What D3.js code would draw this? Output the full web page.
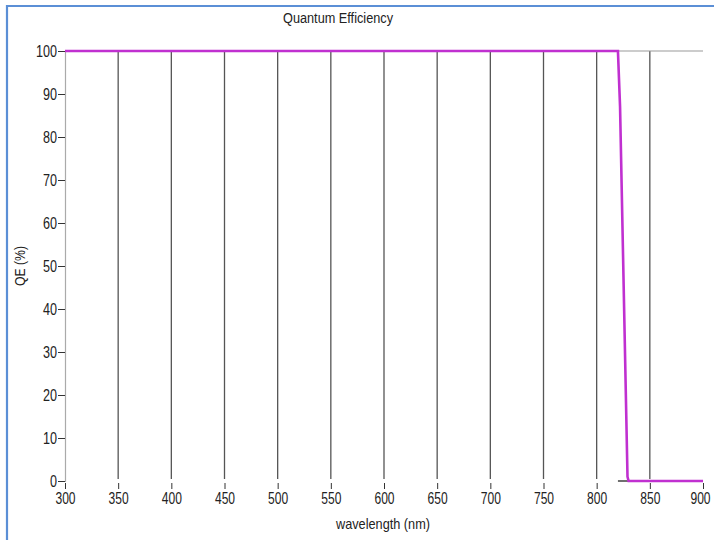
<!DOCTYPE html>
<html><head><meta charset="utf-8">
<script src="https://cdn.jsdelivr.net/npm/d3@7"></script>
<style>
html,body{margin:0;padding:0;background:#fff;}
svg text{font-family:"Liberation Sans","Arial",sans-serif;fill:#222;}
</style></head><body>
<svg id="c" width="714" height="540"></svg>
<script>
const title = "Quantum Efficiency";
const xLabel = "wavelength (nm)";
const yLabel = "QE (%)";
const xTicks = [300,350,400,450,500,550,600,650,700,750,800,850,900];
const yTicks = [0,10,20,30,40,50,60,70,80,90,100];
const gridX = [350,400,450,500,550,600,650,700,750,800,850];
const qeWavelength = [300,820,822,829,830,900];
const qeValue      = [100,100,87,1,0,0];
const baseWavelength = [820,839];
const baseValue      = [0,0];

const svg = d3.select("#c");
const x = d3.scaleLinear().domain([300,900]).range([65,703]);
const y = d3.scaleLinear().domain([0,100]).range([481,51]);

function condense(sel, size, perChar){
  sel.attr("font-size",size).style("fill","#222")
    .attr("lengthAdjust","spacingAndGlyphs")
    .attr("textLength",function(){ return this.textContent.length*perChar; });
}

// frame
svg.append("path").attr("d","M7,545 L7,6 L720,6").attr("fill","none").attr("stroke","#5b8fd6").attr("stroke-width",2.2);

// grid
svg.append("g").selectAll("line").data(gridX).join("line")
  .attr("x1",d=>x(d)).attr("x2",d=>x(d)).attr("y1",y(100)).attr("y2",y(0)-2)
  .attr("stroke","#555").attr("stroke-width",1.3);
// top line
svg.append("line").attr("x1",x(300)).attr("x2",x(900)).attr("y1",y(100)).attr("y2",y(100)).attr("stroke","#999").attr("stroke-width",1.2);
// left axis
const ya = svg.append("g").attr("transform",`translate(${x(300)},0)`)
  .call(d3.axisLeft(y).tickValues(yTicks).tickSize(7).tickPadding(1));
ya.select(".domain").attr("stroke","#aaa").attr("stroke-width",1.2);
ya.selectAll(".tick line").attr("stroke","#333");
ya.selectAll("text").call(condense,16,7);

// bottom ticks
const xa = svg.append("g").attr("transform",`translate(0,${y(0)+2})`)
  .call(d3.axisBottom(x).tickValues(xTicks).tickSize(6).tickPadding(4).tickFormat(d3.format("d")));
xa.select(".domain").remove();
xa.selectAll(".tick line").attr("stroke","#333");
xa.selectAll("text").call(condense,16,6.7);
xa.selectAll(".tick").filter(d=>d===900).select("text").attr("dx",-3);

const line = d3.line().x(d=>x(d[0])).y(d=>y(d[1]));
svg.append("path").datum(baseWavelength.map((w,i)=>[w,baseValue[i]]))
  .attr("d",line).attr("fill","none").attr("stroke","#222").attr("stroke-width",1.3);
svg.append("path").datum(qeWavelength.map((w,i)=>[w,qeValue[i]]))
  .attr("d",line).attr("fill","none").attr("stroke","#c030d0").attr("stroke-width",2.6);

svg.append("text").attr("x",338).attr("y",23).attr("text-anchor","middle").text(title)
  .attr("font-size",14).attr("lengthAdjust","spacingAndGlyphs").attr("textLength",110);
svg.append("text").attr("x",383).attr("y",529).attr("text-anchor","middle").text(xLabel)
  .attr("font-size",15).attr("lengthAdjust","spacingAndGlyphs").attr("textLength",94);
svg.append("text").attr("transform","translate(25,266) rotate(-90)").attr("text-anchor","middle").text(yLabel)
  .attr("font-size",14).attr("lengthAdjust","spacingAndGlyphs").attr("textLength",40);
</script></body></html>
